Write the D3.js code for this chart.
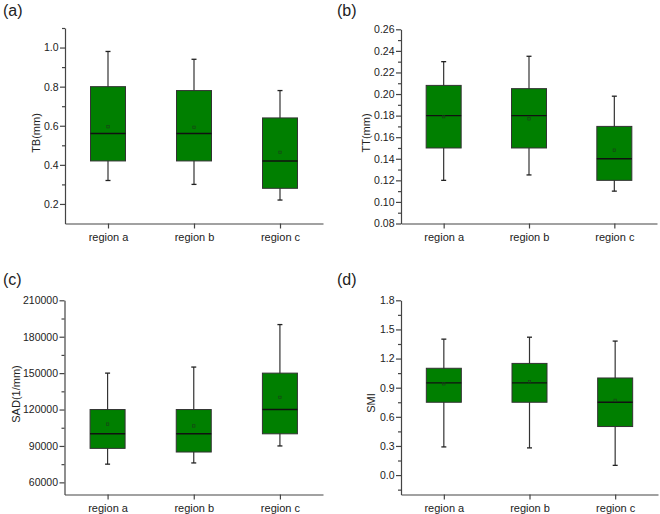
<!DOCTYPE html>
<html>
<head>
<meta charset="utf-8">
<script src="https://cdn.jsdelivr.net/npm/d3@7"></script>
<style>
  body { margin: 0; background: #fff; }
  text { font-family: "Liberation Sans", Arial, sans-serif; fill: #222; }
</style>
</head>
<body>
<div id="wrap"></div>
<script>
// categories
var regions = ['region a', 'region b', 'region c'];

// box stats per region: [min, q1, median, q3, max, mean]
var tbBoxes = [
  [0.32, 0.42, 0.56, 0.80, 0.98, 0.595],
  [0.30, 0.42, 0.56, 0.78, 0.94, 0.592],
  [0.22, 0.28, 0.42, 0.64, 0.78, 0.464]
];
var ttBoxes = [
  [0.120, 0.150, 0.180, 0.208, 0.230, 0.179],
  [0.125, 0.150, 0.180, 0.205, 0.235, 0.177],
  [0.110, 0.120, 0.140, 0.170, 0.198, 0.148]
];
var sadBoxes = [
  [75000, 88000, 100000, 120000, 150000, 108000],
  [76000, 85000, 100000, 120000, 155000, 106500],
  [90000, 100000, 120000, 150000, 190000, 130000]
];
var smiBoxes = [
  [0.29, 0.75, 0.95, 1.10, 1.40, 0.94],
  [0.28, 0.75, 0.95, 1.15, 1.42, 0.96],
  [0.10, 0.50, 0.75, 1.00, 1.38, 0.77]
];

// tick labels
var tbTicks = [0.2, 0.4, 0.6, 0.8, 1.0];
var tbMinor = [0.3, 0.5, 0.7, 0.9, 1.1];
var ttTicks = [0.08, 0.10, 0.12, 0.14, 0.16, 0.18, 0.20, 0.22, 0.24, 0.26];
var ttMinor = [0.09, 0.11, 0.13, 0.15, 0.17, 0.19, 0.21, 0.23, 0.25];
var sadTicks = [60000, 90000, 120000, 150000, 180000, 210000];
var sadMinor = [75000, 105000, 135000, 165000, 195000];
var smiTicks = [0.0, 0.3, 0.6, 0.9, 1.2, 1.5, 1.8];
var smiMinor = [-0.15, 0.15, 0.45, 0.75, 1.05, 1.35, 1.65];

var width = 660, height = 514;

var svg = d3.select('#wrap').append('svg')
  .attr('width', width)
  .attr('height', height);

var panels = [
  {letter: '(a)', lx: 3, ly: 16, title: 'TB(mm)', tx: 36, ty: 133,
   x0: 65, x1: 323, yTop: 28, yBot: 223.5, domain: [0.1, 1.1],
   boxes: tbBoxes, ticks: tbTicks, minor: tbMinor, fmt: '.1f'},
  {letter: '(b)', lx: 337, ly: 16, title: 'TT(mm)', tx: 366, ty: 133,
   x0: 401, x1: 657, yTop: 29.3, yBot: 223.5, domain: [0.08, 0.26],
   boxes: ttBoxes, ticks: ttTicks, minor: ttMinor, fmt: '.2f'},
  {letter: '(c)', lx: 3, ly: 285, title: 'SAD(1/mm)', tx: 16, ty: 394,
   x0: 64.5, x1: 323, yTop: 300.3, yBot: 494.5, domain: [50000, 210000],
   boxes: sadBoxes, ticks: sadTicks, minor: sadMinor, fmt: 'd'},
  {letter: '(d)', lx: 337, ly: 285, title: 'SMI', tx: 371, ty: 403,
   x0: 401, x1: 658, yTop: 300.3, yBot: 494.5, domain: [-0.2, 1.8],
   boxes: smiBoxes, ticks: smiTicks, minor: smiMinor, fmt: '.1f'}
];

panels.forEach(function(p) {
  var x = d3.scalePoint().domain(regions).range([p.x0, p.x1]).padding(0.5),
      y = d3.scaleLinear().domain(p.domain).range([p.yBot, p.yTop]);
  var g = svg.append('g');

  // panel letter
  g.append('text')
    .attr('x', p.lx).attr('y', p.ly)
    .style('font-size', '16px')
    .text(p.letter);

  // y title
  g.append('text')
    .attr('transform', 'translate(' + p.tx + ',' + p.ty + ') rotate(-90)')
    .attr('text-anchor', 'middle')
    .attr('dy', '0.35em')
    .style('font-size', '11px')
    .text(p.title);

  // boxes
  var bw = 35, cw = 5;
  var box = g.selectAll('.box').data(p.boxes).enter().append('g')
    .attr('class', 'box');
  box.append('line')
    .attr('x1', function(d, i) { return x(regions[i]); })
    .attr('x2', function(d, i) { return x(regions[i]); })
    .attr('y1', function(d) { return y(d[4]); })
    .attr('y2', function(d) { return y(d[0]); })
    .attr('stroke', '#333').attr('stroke-width', 1.2);
  [0, 4].forEach(function(k) {
    box.append('line')
      .attr('x1', function(d, i) { return x(regions[i]) - cw / 2; })
      .attr('x2', function(d, i) { return x(regions[i]) + cw / 2; })
      .attr('y1', function(d) { return y(d[k]); })
      .attr('y2', function(d) { return y(d[k]); })
      .attr('stroke', '#222').attr('stroke-width', 1.3);
  });
  box.append('rect')
    .attr('x', function(d, i) { return x(regions[i]) - bw / 2; })
    .attr('width', bw)
    .attr('y', function(d) { return y(d[3]); })
    .attr('height', function(d) { return y(d[1]) - y(d[3]); })
    .attr('fill', '#007f00')
    .attr('stroke', '#333').attr('stroke-width', 1);
  box.append('line')
    .attr('x1', function(d, i) { return x(regions[i]) - bw / 2; })
    .attr('x2', function(d, i) { return x(regions[i]) + bw / 2; })
    .attr('y1', function(d) { return y(d[2]); })
    .attr('y2', function(d) { return y(d[2]); })
    .attr('stroke', '#111').attr('stroke-width', 1.4);
  box.append('rect')
    .attr('x', function(d, i) { return x(regions[i]) - 1.2; })
    .attr('y', function(d) { return y(d[5]) - 1.2; })
    .attr('width', 2.4).attr('height', 2.4)
    .attr('fill', 'none')
    .attr('stroke', '#1a3a1a').attr('stroke-width', 0.6);

  // minor y ticks
  g.append('g')
    .attr('transform', 'translate(' + p.x0 + ',0)')
    .call(d3.axisLeft(y).tickValues(p.minor).tickSize(3).tickFormat(''))
    .call(function(s) { s.select('.domain').remove(); });

  // y axis
  var ya = g.append('g')
    .attr('transform', 'translate(' + p.x0 + ',0)')
    .call(d3.axisLeft(y).tickValues(p.ticks).tickSize(5).tickSizeOuter(0)
      .tickPadding(1.5).tickFormat(d3.format(p.fmt)));
  ya.selectAll('text').style('font-size', '10.5px')
    .style('font-family', '"Liberation Sans", Arial, sans-serif').attr('fill', '#222');

  // x axis
  var xa = g.append('g')
    .attr('transform', 'translate(0,' + p.yBot + ')')
    .call(d3.axisBottom(x).tickSize(5).tickSizeOuter(0).tickPadding(5));
  xa.selectAll('text').style('font-size', '11px')
    .style('font-family', '"Liberation Sans", Arial, sans-serif').attr('fill', '#222');

  g.selectAll('.domain, .tick line').attr('stroke', '#444').attr('stroke-width', 1.2);
});
</script>
</body>
</html>
